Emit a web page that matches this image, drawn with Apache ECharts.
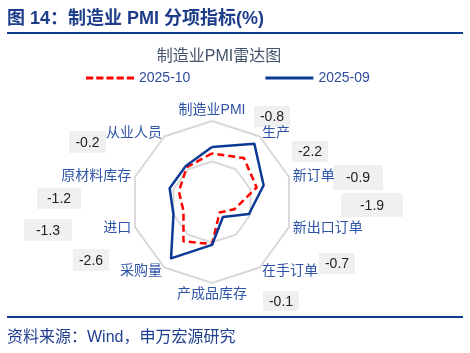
<!DOCTYPE html>
<html>
<head>
<meta charset="utf-8">
<script src="https://cdn.jsdelivr.net/npm/echarts@6/dist/echarts.min.js"></script>
<style>
  html, body { margin: 0; padding: 0; background: #fff; }
  #chart { width: 470px; height: 353px; }
</style>
</head>
<body>
<div id="chart"></div>
<script>
// 指标（顺时针，从顶部开始）
var indicators = ['制造业PMI', '生产', '新订单', '新出口订单', '在手订单', '产成品库存', '采购量', '进口', '原材料库存', '从业人员'];
var pmiOct = [49.0, 49.7, 48.8, 45.9, 44.6, 48.2, 49.0, 46.7, 47.3, 48.3];
var pmiSep = [49.8, 51.9, 49.7, 47.8, 45.3, 48.3, 51.6, 48.0, 48.5, 48.5];
var diffLabels = ['-0.8', '-2.2', '-0.9', '-1.9', '-0.7', '-0.1', '-2.6', '-1.3', '-1.2', '-0.2'];
var axisMin = 43, axisMax = 53;

// 差值标签框的位置 [x, y, w, h]
var boxPos = [
    [254, 106, 36, 21], [292, 141, 36, 21], [333, 165, 50, 25], [341, 193, 62, 24],
    [319, 253, 36, 21], [263, 291, 36, 20], [73, 249, 36, 22], [24, 219, 48, 22],
    [37, 188, 44, 21], [69, 131, 37, 22]
];

// echarts 雷达默认逆时针，这里换成顺时针
function clockwise(arr) {
    return [arr[0]].concat(arr.slice(1).reverse());
}

var font = "'Liberation Sans', 'Noto Sans CJK SC', sans-serif";
var dashIcon = 'path://M0,0h7.2v3h-7.2z M10.2,0h7.2v3h-7.2z M20.4,0h7.2v3h-7.2z M30.6,0h7.2v3h-7.2z M40.8,0h7.2v3h-7.2z';
var solidIcon = 'path://M0,0h48v3h-48z';

var boxes = [];
diffLabels.forEach(function (t, i) {
    var p = boxPos[i];
    boxes.push({
        type: 'rect', left: p[0], top: p[1],
        shape: { width: p[2], height: p[3] },
        style: { fill: '#f0f0f0' }
    });
    boxes.push({
        type: 'text', x: p[0] + p[2] / 2, y: p[1] + p[3] / 2 + 1,
        style: { text: t, fill: '#222', font: '14px ' + font, align: 'center', verticalAlign: 'middle' }
    });
});

var chart = echarts.init(document.getElementById('chart'));
chart.setOption({
    animation: false,
    title: {
        text: '制造业PMI雷达图',
        left: 214, top: 44, textAlign: 'center',
        textStyle: { color: '#44546a', fontSize: 16, fontWeight: 'normal', fontFamily: font }
    },
    legend: {
        left: 81, top: 66,
        itemWidth: 48, itemHeight: 3, itemGap: 75,
        textStyle: { color: '#2f4b9b', fontSize: 14, fontFamily: font },
        data: [
            { name: '2025-10', icon: dashIcon, itemStyle: { color: '#ff0000' } },
            { name: '2025-09', icon: solidIcon, itemStyle: { color: '#0b3a94' } }
        ]
    },
    radar: {
        center: [212, 202],
        radius: 81,
        splitNumber: 2,
        shape: 'polygon',
        nameGap: 4,
        axisName: { color: '#2e54a6', fontSize: 14, fontFamily: font },
        axisLine: { show: false },
        splitArea: { show: false },
        splitLine: { lineStyle: { color: '#d9d9d9', width: 2 } },
        indicator: clockwise(indicators).map(function (n) {
            return { name: n, min: axisMin, max: axisMax };
        })
    },
    series: [{
        type: 'radar',
        symbol: 'none',
        data: [
            {
                name: '2025-10', value: clockwise(pmiOct),
                itemStyle: { color: '#ff0000' },
                lineStyle: { color: '#ff0000', width: 2.5, type: [7, 4] }
            },
            {
                name: '2025-09', value: clockwise(pmiSep),
                itemStyle: { color: '#0b3a94' },
                lineStyle: { color: '#0b3a94', width: 2.5 }
            }
        ]
    }],
    graphic: [
        {
            type: 'text', left: 7, top: 10,
            style: { text: '图 14：制造业 PMI 分项指标(%)', fill: '#1d3c89', font: 'bold 18px ' + font }
        },
        { type: 'rect', left: 7, top: 32, shape: { width: 456, height: 2 }, style: { fill: '#0d3a8c' } },
        { type: 'rect', left: 7, top: 316, shape: { width: 456, height: 2 }, style: { fill: '#0d3a8c' } },
        {
            type: 'text', left: 7, top: 330,
            style: { text: '资料来源：Wind，申万宏源研究', fill: '#1f3f8f', font: '16px ' + font }
        }
    ].concat(boxes)
});
</script>
</body>
</html>
